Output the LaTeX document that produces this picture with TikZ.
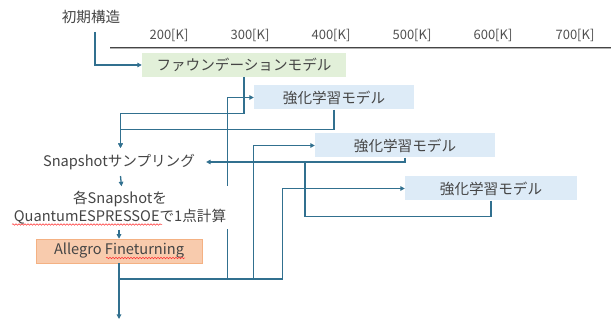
\documentclass[tikz,border=0pt]{standalone}
\usepackage{fontspec}
\setmainfont{Noto Sans CJK JP}
\usetikzlibrary{arrows.meta,calc,decorations.pathmorphing}
\definecolor{txt}{HTML}{454545}
\definecolor{lbl}{HTML}{505050}
\definecolor{ln}{HTML}{31708F}
\definecolor{fmfill}{HTML}{E2F0D9}
\definecolor{rlfill}{HTML}{DDEBF7}
\definecolor{alfill}{HTML}{F8CBAD}
\definecolor{alline}{HTML}{F4B183}
\tikzset{
  base/.style={font=\fontsize{14.6}{18}\selectfont, text=txt},
  plain/.style={base, inner sep=1pt},
  fmbox/.style={base, fill=fmfill, minimum width=204pt, minimum height=24pt, inner sep=0pt},
  rlbox/.style={base, fill=rlfill, minimum height=24pt, inner sep=0pt},
  albox/.style={base, fill=alfill, draw=alline, line width=0.5pt, minimum width=166pt, minimum height=24pt, inner sep=0pt},
  axlbl/.style={font=\fontsize{13}{16}\selectfont, text=lbl, inner sep=0pt},
  conn/.style={draw=ln, line width=1.3pt},
  arr/.style={conn, -{Triangle[length=4.5pt,width=4.5pt]}},
  squig/.style={draw=red!80, line width=0.5pt, decorate, decoration={snake, amplitude=0.8pt, segment length=3pt}}
}
\begin{document}
\begin{tikzpicture}[x=1pt,y=-1pt]
\useasboundingbox (0,0) rectangle (611,320);
% axis
\coordinate (ax1) at (110,47.5);
\coordinate (ax2) at (611,47.5);
\draw[gray!60, line width=1pt] ([yshift=-1.3pt]ax1) -- ([yshift=-1.3pt]ax2);
\draw[txt, line width=1.5pt] (ax1) -- (ax2);
\node[axlbl] (t200) at (169,35) {200[K]};
\node[axlbl] (t300) at (250,35) {300[K]};
\node[axlbl] (t400) at (331,35) {400[K]};
\node[axlbl] (t500) at (412,35) {500[K]};
\node[axlbl] (t600) at (493,35) {600[K]};
\node[axlbl] (t700) at (575,35) {700[K]};

% nodes
\node[plain] (init) at (91,17) {初期構造};
\node[fmbox] (fm) at (244,65) {ファウンデーションモデル};
\node[rlbox, minimum width=160pt] (rl1) at (334,97.5) {強化学習モデル};
\node[rlbox, minimum width=180pt] (rl2) at (405,145.5) {強化学習モデル};
\node[rlbox, minimum width=172pt] (rl3) at (491,188.5) {強化学習モデル};
\node[base, inner xsep=11pt, inner ysep=6pt] (snap) at (119,162) {Snapshotサンプリング};
\node[albox] (al) at (119,251) {Allegro Fineturning};
\coordinate (out) at (119,319);
\coordinate (bus) at (119,279);

% connectors from bus (drawn before the white text box)
\draw[arr] (bus) -| ([xshift=-26pt]rl1.west) -- (rl1.west);
\draw[arr] (bus) -| ([xshift=-61pt]rl2.west) -- (rl2.west);
\draw[arr] (bus) -| ([xshift=-122pt]rl3.west) -- (rl3.west);

\node[base, fill=white, align=center, minimum width=226pt, minimum height=43pt, inner sep=0pt] (qe) at (120,208)
  {各Snapshotを\\QuantumESPRESSOEで1点計算};

% other connectors
\draw[arr] ([shift={(4,7)}]init.south) |- (fm.west);
\draw[arr] (fm.south) -- ++(0,36) -| ([xshift=1.5pt]snap.north);
\draw[arr] (rl1.south) -- ++(0,20) -| ([xshift=1.5pt]snap.north);
\draw[arr] (rl2.south) |- (snap.east);
\draw[conn] (rl3.south) -- ++(0,16) -| ([xshift=99pt]snap.east);
\draw[arr] ([xshift=1.5pt]snap.south) -- ([xshift=1.5pt]qe.north);
\draw[arr] (qe.south -| al.north) -- (al.north);
\draw[arr] (al.south) -- (out);

% spell-check squiggles
\draw[squig] (12,224.5) -- (162,224.5);
\draw[squig] (106,258) -- (185,258);
\end{tikzpicture}
\end{document}
